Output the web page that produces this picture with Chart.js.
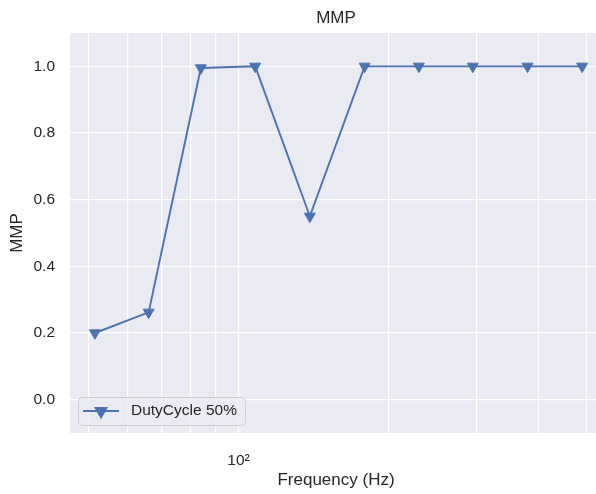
<!DOCTYPE html>
<html>
<head>
<meta charset="utf-8">
<title>MMP</title>
<script src="https://cdn.jsdelivr.net/npm/chart.js@4.4.1/dist/chart.umd.min.js"></script>
<style>
  html, body { margin: 0; padding: 0; background: #fff; overflow: hidden; }
  #wrap { width: 596px; height: 494px; overflow: hidden; }
</style>
</head>
<body>
<div id="wrap"><canvas id="mmpChart" width="602" height="494"></canvas></div>
<script>
const frequencies = [51.5, 66, 84, 108, 139, 179, 230, 295, 380, 489];
const mmpValues = [0.20, 0.262, 0.995, 1.0, 0.55, 1.0, 1.0, 1.0, 1.0, 1.0];
const xGridTicks = [50, 60, 70, 80, 90, 100, 200, 300, 400, 500];
const xLabelTicks = [100];
const yTicks = [0.0, 0.2, 0.4, 0.6, 0.8, 1.0];
const seriesLabel = "DutyCycle 50%";

const FONT = '"Liberation Sans", Arial, sans-serif';
const TEXT = '#262626';
const BLUE = '#4c72b0';

const supDigits = { '0': '⁰', '1': '¹', '2': '²', '3': '³', '4': '⁴', '5': '⁵', '6': '⁶', '7': '⁷', '8': '⁸', '9': '⁹' };
function powerLabel(v) {
  const e = Math.round(Math.log10(v));
  return '10' + String(e).split('').map(c => supDigits[c]).join('');
}

// grey panel behind the axes, seaborn style
const panelBg = {
  id: 'panelBg',
  beforeDraw(chart) {
    const { ctx, chartArea: a } = chart;
    ctx.save();
    ctx.fillStyle = '#fff';
    ctx.fillRect(0, 0, chart.width, chart.height);
    ctx.fillStyle = '#eaeaf2';
    ctx.fillRect(a.left, a.top, a.right - a.left, a.bottom - a.top);
    ctx.restore();
  }
};

// legend box in the lower left corner of the plot
const cornerLegend = {
  id: 'cornerLegend',
  afterDatasetsDraw(chart) {
    const { ctx, chartArea: a } = chart;
    const ds = chart.data.datasets[0];
    ctx.save();
    ctx.font = '15.5px ' + FONT;
    const textW = ctx.measureText(ds.label).width;
    const h = 28;
    const x = a.left + 8;
    const y = a.bottom - 8 - h;
    const w = 5 + 36 + 12 + textW + 8;
    ctx.beginPath();
    ctx.roundRect(x + 0.5, y + 0.5, w, h, 4);
    ctx.fillStyle = 'rgba(234,234,242,0.8)';
    ctx.fill();
    ctx.strokeStyle = '#cccccc';
    ctx.lineWidth = 1;
    ctx.stroke();

    const cy = y + h / 2;
    ctx.strokeStyle = ds.borderColor;
    ctx.lineWidth = ds.borderWidth;
    ctx.beginPath();
    ctx.moveTo(x + 5, cy);
    ctx.lineTo(x + 41, cy);
    ctx.stroke();
    ctx.fillStyle = ds.pointBackgroundColor;
    ctx.strokeStyle = ds.pointBorderColor;
    Chart.helpers.drawPoint(ctx, {
      pointStyle: ds.pointStyle, rotation: ds.pointRotation,
      radius: ds.pointRadius, borderWidth: 1
    }, x + 23, cy);

    ctx.fillStyle = TEXT;
    ctx.textBaseline = 'middle';
    ctx.textAlign = 'left';
    ctx.fillText(ds.label, x + 53, cy);
    ctx.restore();
  }
};

new Chart(document.getElementById('mmpChart'), {
  type: 'line',
  data: {
    datasets: [{
      label: seriesLabel,
      data: frequencies.map((f, i) => ({ x: f, y: mmpValues[i] })),
      borderColor: BLUE,
      borderWidth: 1.9,
      pointStyle: 'triangle',
      pointRotation: 180,
      pointRadius: 6.3,
      pointBackgroundColor: BLUE,
      pointBorderColor: BLUE,
      pointBorderWidth: 1,
      tension: 0,
      fill: false
    }]
  },
  plugins: [panelBg, cornerLegend],
  options: {
    responsive: false,
    animation: false,
    layout: { padding: 0, autoPadding: false },
    plugins: {
      legend: { display: false },
      title: { display: false },
      tooltip: { enabled: false }
    },
    scales: {
      x: {
        type: 'logarithmic',
        position: 'bottom',
        min: 45.9,
        max: 536,
        afterBuildTicks(scale) {
          scale.ticks = xGridTicks.map(v => ({ value: v }));
        },
        afterFit(scale) {
          scale.height = 61;
          // the only labelled tick sits well inside the plot
          scale.paddingLeft = 0;
          scale.paddingRight = 0;
        },
        grid: { color: '#ffffff', lineWidth: 1.2, drawTicks: false },
        border: { display: false },
        ticks: {
          padding: 18,
          autoSkip: false,
          maxRotation: 0,
          color: TEXT,
          font: { family: FONT, size: 15.5 },
          callback: v => xLabelTicks.includes(v) ? powerLabel(v) : ''
        },
        title: {
          display: true,
          text: 'Frequency (Hz)',
          color: TEXT,
          font: { family: FONT, size: 17 },
          padding: { top: 0, bottom: 3 }
        }
      },
      xTop: {
        type: 'linear',
        position: 'top',
        afterFit(scale) {
          scale.height = 33;
          scale.paddingLeft = 0;
          scale.paddingRight = 0;
        },
        grid: { display: false },
        border: { display: false },
        ticks: { display: false },
        title: {
          display: true,
          text: 'MMP',
          color: TEXT,
          font: { family: FONT, size: 17 },
          padding: { top: 8, bottom: 0 }
        }
      },
      y: {
        min: -0.1,
        max: 1.1,
        afterBuildTicks(scale) {
          scale.ticks = yTicks.map(v => ({ value: v }));
        },
        afterFit(scale) { scale.width = 70; },
        grid: { color: '#ffffff', lineWidth: 1.2, drawTicks: false },
        border: { display: false },
        ticks: {
          padding: 15,
          color: TEXT,
          font: { family: FONT, size: 15.5 },
          callback: v => v.toFixed(1)
        },
        title: {
          display: true,
          text: 'MMP',
          color: TEXT,
          font: { family: FONT, size: 17 },
          padding: { top: 7, bottom: 0 }
        }
      }
    }
  }
});
</script>
</body>
</html>
